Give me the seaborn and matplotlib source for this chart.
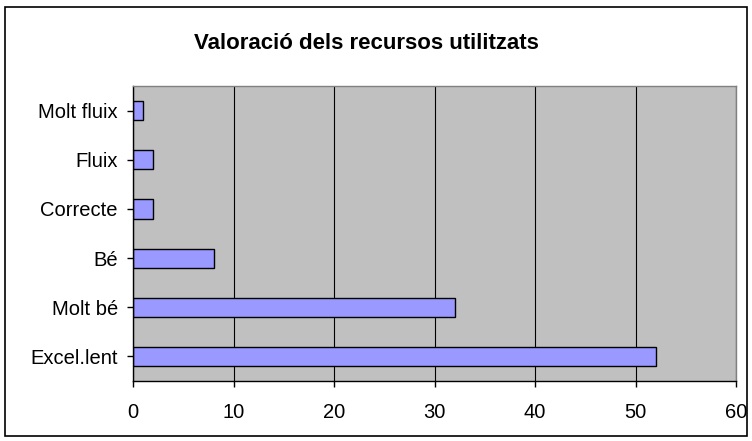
import matplotlib
matplotlib.use("Agg")
import matplotlib.pyplot as plt
import seaborn as sns
import pandas as pd
from matplotlib.patches import Rectangle

# dades del gràfic
categories = ["Molt fluix", "Fluix", "Correcte", "Bé", "Molt bé", "Excel.lent"]
values = [1, 2, 2, 8, 32, 52]

sns.set_style("white", {"xtick.bottom": True, "ytick.left": True})
plt.rcParams['font.family'] = ['Liberation Sans', 'DejaVu Sans']
plt.rcParams['text.color'] = 'black'
plt.rcParams['xtick.color'] = 'black'
plt.rcParams['ytick.color'] = 'black'

df = pd.DataFrame({"categoria": categories, "valor": values})

fig = plt.figure(figsize=(7.52, 4.41), dpi=100)
ax = fig.add_axes([0.177, 0.136, 0.802, 0.669])

sns.barplot(data=df, x="valor", y="categoria", orient="h", order=categories,
            color="#9999FF", saturation=1, edgecolor="black", linewidth=1,
            width=0.39, ax=ax)

ax.set_facecolor("#C0C0C0")
ax.set_xlim(0, 60)
ax.set_xticks(range(0, 61, 10))
ax.xaxis.grid(True, color="black", linewidth=0.8)
ax.yaxis.grid(False)
ax.set_axisbelow(True)
for s in ax.spines.values():
    s.set_color("#808080")
    s.set_linewidth(1)
ax.spines["bottom"].set_color("black")
ax.spines["left"].set_color("black")
ax.tick_params(axis="both", direction="out", length=4.5, width=1,
               labelsize=14.5, pad=6.5)
ax.tick_params(axis="x", pad=11)
ax.set_xlabel("")
ax.set_ylabel("")

fig.text(0.487, 0.902, "Valoració dels recursos utilitzats", fontsize=16,
         fontweight="bold", ha="center", va="center")

# marc exterior del gràfic
fig.patches.append(Rectangle((0.006, 0.012), 0.988, 0.972, transform=fig.transFigure,
                             fill=False, edgecolor="black", linewidth=1.2))

fig.savefig("out.png", dpi=100)
